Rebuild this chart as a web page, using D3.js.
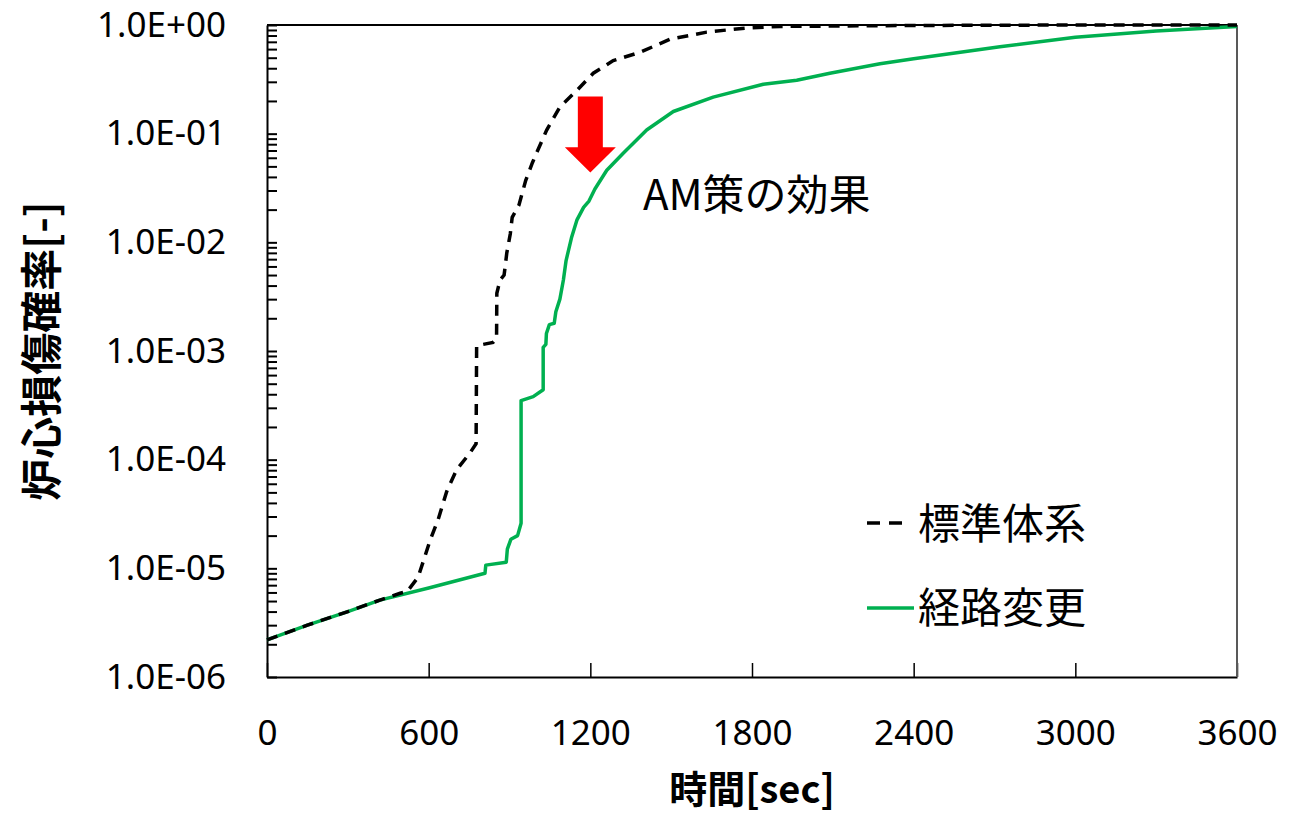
<!DOCTYPE html>
<html>
<head>
<meta charset="utf-8">
<script src="https://cdn.jsdelivr.net/npm/d3@7"></script>
<style>
body { margin: 0; background: #fff; }
svg text { font-family: "Noto Sans", "Noto Sans CJK JP", sans-serif; }
.cjk { font-family: "Noto Sans CJK JP", sans-serif !important; }
</style>
</head>
<body>
<svg id="chart" width="1291" height="815"></svg>
<script>
// series: 標準体系 (dashed) and 経路変更 (green), [time sec, probability]
var standardT = [0, 150, 300, 419, 494, 520, 561, 605, 635, 667, 704, 753, 776, 778, 839, 852, 853, 865, 880, 890, 903, 910, 935, 960, 985, 1000, 1038, 1087, 1150, 1211, 1285, 1384, 1496, 1632, 1781, 1904, 2400, 3000, 3600];
var standardP = [2.2e-6, 3.0e-6, 4.0e-6, 5.1e-6, 5.9e-6, 6.1e-6, 8.3e-6, 1.8e-5, 2.8e-5, 5.1e-5, 8.1e-5, 1.15e-4, 1.4e-4, 1.12e-3, 1.2e-3, 1.3e-3, 3.4e-3, 4.5e-3, 5.0e-3, 8.0e-3, 1.2e-2, 1.7e-2, 2.2e-2, 3.7e-2, 5.4e-2, 6.6e-2, 0.108, 0.176, 0.25, 0.36, 0.47, 0.56, 0.74, 0.86, 0.94, 0.97, 0.99, 1.0, 1.0];

var routeT = [0, 150, 300, 419, 600, 809, 812, 888, 892, 905, 930, 943, 943, 988, 1025, 1025, 1035, 1037, 1048, 1066, 1072, 1087, 1100, 1110, 1130, 1150, 1175, 1195, 1217, 1261, 1322, 1409, 1508, 1656, 1842, 1966, 2089, 2275, 2400, 2720, 3000, 3300, 3600];
var routeP = [2.2e-6, 3.0e-6, 4.0e-6, 5.1e-6, 6.6e-6, 9.0e-6, 1.07e-5, 1.14e-5, 1.5e-5, 1.85e-5, 2.0e-5, 2.6e-5, 3.5e-4, 3.8e-4, 4.4e-4, 1.08e-3, 1.15e-3, 1.45e-3, 1.75e-3, 1.8e-3, 2.3e-3, 3.0e-3, 4.5e-3, 6.8e-3, 1.1e-2, 1.6e-2, 2.1e-2, 2.4e-2, 3.1e-2, 4.6e-2, 6.6e-2, 0.108, 0.16, 0.217, 0.285, 0.31, 0.36, 0.44, 0.49, 0.63, 0.77, 0.88, 0.97];

var xTicks = [0, 600, 1200, 1800, 2400, 3000, 3600];
var yTicks = [1e-6, 1e-5, 1e-4, 1e-3, 1e-2, 1e-1, 1];
var seriesNames = ['標準体系', '経路変更'];

// annotation: arrow at t=1200 from 0.22 down to 0.044
var arrowT = 1200, arrowTop = 0.22, arrowBase = 0.075, arrowTip = 0.044;
var noteText = 'AM策の効果', noteT = 1395, noteP = 0.0198;

var svg = d3.select('#chart');
var plotL = 267, plotR = 1237, plotT = 25, plotB = 677;

var x = d3.scaleLinear().domain([0, 3600]).range([plotL, plotR]);
var y = d3.scaleLog().domain([1e-6, 1]).range([plotB, plotT]);

// minor log ticks
var minor = [];
yTicks.slice(0, -1).forEach(function(d) {
	for (var k = 2; k <= 9; k++) minor.push(d * k);
});

svg.append('g')
	.attr('transform', 'translate(' + plotL + ',0)')
	.call(d3.axisLeft(y).tickValues(minor).tickSize(-10).tickFormat(''))
	.call(function(g) { g.select('.domain').remove(); })
	.selectAll('line').attr('stroke', '#000').attr('stroke-width', 2);

var yAxis = svg.append('g')
	.attr('transform', 'translate(' + plotL + ',0)')
	.call(d3.axisLeft(y).tickValues(yTicks).tickSize(-10).tickSizeOuter(0).tickPadding(41)
		.tickFormat(function(d) {
			var e = Math.round(Math.log10(d));
			return '1.0E' + (e < 0 ? '-' : '+') + d3.format('02')(Math.abs(e));
		}));
yAxis.select('.domain').attr('stroke', '#000').attr('stroke-width', 2);
yAxis.selectAll('line').attr('stroke', '#000').attr('stroke-width', 2);
yAxis.selectAll('text').attr('font-size', 35).attr('fill', '#000');

var xAxis = svg.append('g')
	.attr('transform', 'translate(0,' + plotB + ')')
	.call(d3.axisBottom(x).tickValues(xTicks).tickSize(-14).tickSizeOuter(0).tickPadding(43)
		.tickFormat(d3.format('d')));
xAxis.select('.domain').attr('stroke', '#000').attr('stroke-width', 2);
xAxis.selectAll('line').attr('stroke', '#000').attr('stroke-width', 1.5);
xAxis.selectAll('text').attr('font-size', 35).attr('fill', '#000');

// frame top and right
svg.append('line').attr('x1', plotL).attr('x2', plotR).attr('y1', plotT).attr('y2', plotT)
	.attr('stroke', '#000').attr('stroke-width', 2);
svg.append('line').attr('x1', plotR).attr('x2', plotR).attr('y1', plotT).attr('y2', plotB)
	.attr('stroke', '#595959').attr('stroke-width', 2);

var line = d3.line()
	.x(function(d) { return x(d[0]); })
	.y(function(d) { return y(d[1]); });

var routeData = d3.zip(routeT, routeP);
var standardData = d3.zip(standardT, standardP);

svg.append('path')
	.datum(routeData)
	.attr('d', line)
	.attr('fill', 'none')
	.attr('stroke', '#00B050')
	.attr('stroke-width', 3.5)
	.attr('stroke-linejoin', 'round');

svg.append('path')
	.datum(standardData)
	.attr('d', line)
	.attr('fill', 'none')
	.attr('stroke', '#000')
	.attr('stroke-width', 3.5)
	.attr('stroke-dasharray', '11,8');

// red arrow
var ax = x(arrowT), ay0 = y(arrowTop), ay1 = y(arrowBase), ay2 = y(arrowTip);
svg.append('polygon')
	.attr('points', [
		[ax - 12.5, ay0], [ax + 12.5, ay0], [ax + 12.5, ay1], [ax + 25.5, ay1],
		[ax, ay2], [ax - 25.5, ay1], [ax - 12.5, ay1]
	].map(function(p) { return p.join(','); }).join(' '))
	.attr('fill', '#FF0000');

svg.append('text')
	.attr('class', 'cjk')
	.attr('x', x(noteT)).attr('y', y(noteP))
	.attr('font-size', 42)
	.text(noteText);

// legend
var legend = svg.append('g');
legend.append('line').attr('x1', 867).attr('x2', 911).attr('y1', 523).attr('y2', 523)
	.attr('stroke', '#000').attr('stroke-width', 3.5).attr('stroke-dasharray', '13,9');
legend.append('text').attr('class', 'cjk').attr('x', 918).attr('y', 539)
	.attr('font-size', 42).text(seriesNames[0]);
legend.append('line').attr('x1', 867).attr('x2', 914).attr('y1', 608).attr('y2', 608)
	.attr('stroke', '#00B050').attr('stroke-width', 3.5);
legend.append('text').attr('class', 'cjk').attr('x', 918).attr('y', 623)
	.attr('font-size', 42).text(seriesNames[1]);

// axis titles
svg.append('text')
	.attr('class', 'cjk')
	.attr('x', (plotL + plotR) / 2).attr('y', 803)
	.attr('text-anchor', 'middle')
	.attr('font-size', 38).attr('font-weight', 'bold')
	.text('時間[sec]');

svg.append('text')
	.attr('class', 'cjk')
	.attr('transform', 'translate(57,' + ((plotT + plotB) / 2) + ') rotate(-90)')
	.attr('text-anchor', 'middle')
	.attr('font-size', 42).attr('font-weight', 'bold')
	.text('炉心損傷確率[-]');
</script>
</body>
</html>
